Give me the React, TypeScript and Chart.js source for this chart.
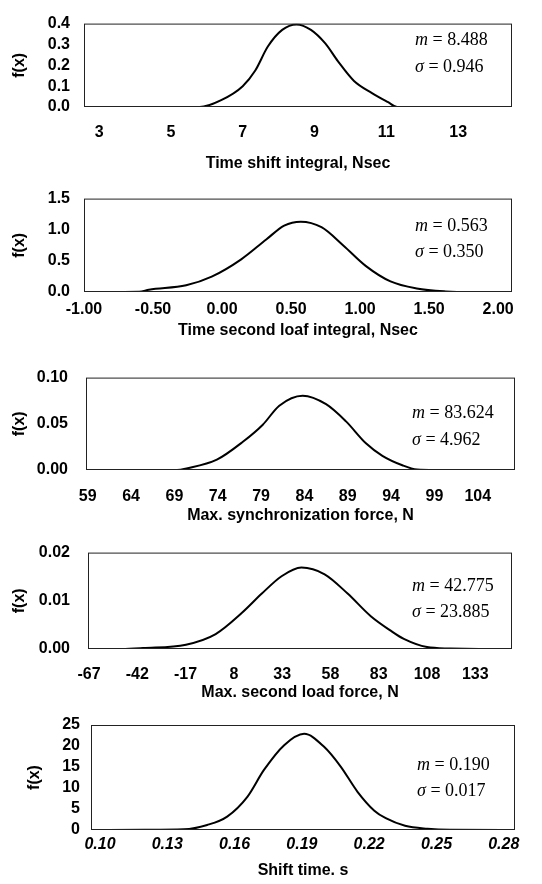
import React, { useEffect, useRef } from "react";
import { Chart, registerables } from "chart.js";
Chart.register(...registerables);

// ---------- DATA ----------
// Panel 1: Time shift integral
const p1X = [2.6, 4, 5, 5.8, 6.4, 7.0, 7.35, 7.7, 8.1, 8.5, 8.9, 9.3, 9.65, 10.1, 10.6, 11.05, 11.3, 12, 13, 14.5];
const p1Y = [0, 0, 0, 0, 0.033, 0.1, 0.175, 0.29, 0.37, 0.396, 0.37, 0.305, 0.22, 0.125, 0.067, 0.023, 0, 0, 0, 0];
const p1XTicks = [3, 5, 7, 9, 11, 13];
const p1YTicks = [0, 0.1, 0.2, 0.3, 0.4];

// Panel 2: Time second loaf integral
const p2X = [-1.0, -0.6, -0.53, -0.26, -0.075, 0.136, 0.32, 0.45, 0.57, 0.72, 0.88, 1.04, 1.22, 1.41, 1.62, 1.8, 2.1];
const p2Y = [0, 0.005, 0.037, 0.107, 0.246, 0.52, 0.843, 1.067, 1.13, 1.04, 0.743, 0.42, 0.17, 0.057, 0.01, 0, 0];
const p2XTicks = [-1.0, -0.5, 0.0, 0.5, 1.0, 1.5, 2.0];
const p2YTicks = [0, 0.5, 1.0, 1.5];

// Panel 3: Max. synchronization force
const p3X = [58.8, 65, 69.3, 70.4, 73.9, 76.9, 79.2, 81.1, 83.8, 86.5, 88.8, 91.1, 93.0, 95.3, 97, 99, 104, 108.3];
const p3Y = [0, 0, 0, 0.0017, 0.0112, 0.0305, 0.049, 0.0696, 0.0804, 0.0712, 0.0526, 0.0289, 0.0153, 0.0051, 0.0005, 0, 0, 0];
const p3XTicks = [59, 64, 69, 74, 79, 84, 89, 94, 99, 104];
const p3YTicks = [0, 0.05, 0.1];

// Panel 4: Max. second load force
const p4X = [-67.5, -50, -39, -16.8, -1.4, 12.2, 22.5, 32.7, 43, 55, 66.9, 78.9, 89.2, 96, 108, 120, 135, 152];
const p4Y = [0, 0, 0.0002, 0.0009, 0.0031, 0.0075, 0.0115, 0.0151, 0.0169, 0.0155, 0.0115, 0.0068, 0.0038, 0.0021, 0.0004, 0.0001, 0, 0];
const p4XTicks = [-67, -42, -17, 8, 33, 58, 83, 108, 133];
const p4YTicks = [0, 0.01, 0.02];

// Panel 5: Shift time
const p5X = [0.096, 0.12, 0.1374, 0.1478, 0.1567, 0.1657, 0.1731, 0.1821, 0.191, 0.1999, 0.2073, 0.2148, 0.2223, 0.2274, 0.236, 0.246, 0.256, 0.285];
const p5Y = [0, 0.05, 0.16, 1.2, 3.2, 7.9, 14.3, 20.2, 22.9, 19.8, 15.1, 9.1, 4.6, 2.8, 1.0, 0.3, 0.05, 0];
const p5XTicks = [0.1, 0.13, 0.16, 0.19, 0.22, 0.25, 0.28];
const p5YTicks = [0, 5, 10, 15, 20, 25];

const titles = [
  "Time shift integral, Nsec",
  "Time second loaf integral, Nsec",
  "Max. synchronization force, N",
  "Max. second load force, N",
  "Shift time. s",
];
const mValues = ["8.488", "0.563", "83.624", "42.775", "0.190"];
const sValues = ["0.946", "0.350", "4.962", "23.885", "0.017"];

// ---------- LAYOUT ----------
type Panel = {
  xs: number[]; ys: number[]; xTicks: number[]; yTicks: number[];
  xMin: number; xMax: number; yMax: number; xDec: number; yDec: number;
  top: number; height: number; L: number; R: number; T: number; B: number;
  xTickPad: number; yTickPad: number; yTitlePad: number; xItalic: boolean;
  title: string; m: string; s: string; mY: number; sY: number; textX: number;
};

const W = 542;
const panels: Panel[] = [
  { xs: p1X, ys: p1Y, xTicks: p1XTicks, yTicks: p1YTicks, xMin: 2.58, xMax: 14.5, yMax: 0.4, xDec: 0, yDec: 1,
    top: 0, height: 175, L: 84, R: 512, T: 15, B: 107, xTickPad: 16, yTickPad: 14, yTitlePad: 10, xItalic: false,
    title: titles[0], m: mValues[0], s: sValues[0], mY: 40, sY: 67, textX: 415 },
  { xs: p2X, ys: p2Y, xTicks: p2XTicks, yTicks: p2YTicks, xMin: -1.0, xMax: 2.1, yMax: 1.5, xDec: 2, yDec: 1,
    top: 175, height: 167, L: 84, R: 512, T: 190, B: 292, xTickPad: 8, yTickPad: 14, yTitlePad: 10, xItalic: false,
    title: titles[1], m: mValues[1], s: sValues[1], mY: 226, sY: 252, textX: 415 },
  { xs: p3X, ys: p3Y, xTicks: p3XTicks, yTicks: p3YTicks, xMin: 58.8, xMax: 108.3, yMax: 0.1, xDec: 0, yDec: 2,
    top: 350, height: 177, L: 86, R: 515, T: 372, B: 470, xTickPad: 17, yTickPad: 18, yTitlePad: 10, xItalic: false,
    title: titles[2], m: mValues[2], s: sValues[2], mY: 413, sY: 440, textX: 412 },
  { xs: p4X, ys: p4Y, xTicks: p4XTicks, yTicks: p4YTicks, xMin: -67.5, xMax: 152, yMax: 0.02, xDec: 0, yDec: 2,
    top: 525, height: 179, L: 88, R: 512, T: 549, B: 649, xTickPad: 16, yTickPad: 18, yTitlePad: 10, xItalic: false,
    title: titles[3], m: mValues[3], s: sValues[3], mY: 586, sY: 612, textX: 412 },
  { xs: p5X, ys: p5Y, xTicks: p5XTicks, yTicks: p5YTicks, xMin: 0.096, xMax: 0.285, yMax: 25, xDec: 2, yDec: 0,
    top: 700, height: 182, L: 91, R: 515, T: 725, B: 830, xTickPad: 5, yTickPad: 11, yTitlePad: 25, xItalic: true,
    title: titles[4], m: mValues[4], s: sValues[4], mY: 765, sY: 791, textX: 417 },
];

const FONT = "'Liberation Sans', Arial, sans-serif";
const SERIF = "'Liberation Serif', 'Times New Roman', serif";

function PanelChart({ p }: { p: Panel }) {
  const ref = useRef<HTMLCanvasElement | null>(null);
  useEffect(() => {
    if (!ref.current) return;
    const frame = {
      id: "frame",
      afterDraw(chart: any) {
        const { ctx, chartArea } = chart;
        ctx.save();
        ctx.strokeStyle = "#222";
        ctx.lineWidth = 1;
        ctx.strokeRect(chartArea.left + 0.5, chartArea.top + 0.5, chartArea.right - chartArea.left - 1, chartArea.bottom - chartArea.top - 1);
        ctx.fillStyle = "#000";
        ctx.textBaseline = "middle";
        ctx.textAlign = "left";
        const drawLine = (sym: string, val: string, y: number) => {
          ctx.font = `italic 18px ${SERIF}`;
          ctx.fillText(sym, p.textX, y - p.top);
          const w = ctx.measureText(sym).width;
          ctx.font = `18px ${SERIF}`;
          ctx.fillText(" = " + val, p.textX + w, y - p.top);
        };
        drawLine("m", p.m, p.mY);
        drawLine("\u03c3", p.s, p.sY);
        ctx.restore();
      },
    };
    const chart = new Chart(ref.current, {
      type: "line",
      data: {
        datasets: [
          {
            data: p.xs.map((x, i) => ({ x, y: p.ys[i] })),
            borderColor: "#000",
            borderWidth: 2,
            pointRadius: 0,
            fill: false,
            cubicInterpolationMode: "monotone",
          },
        ],
      },
      options: {
        responsive: false,
        animation: false,
        events: [],
        layout: { padding: { left: 0, right: W - p.R, top: p.T - p.top, bottom: 0 } },
        plugins: { legend: { display: false }, tooltip: { enabled: false } },
        scales: {
          x: {
            type: "linear",
            min: p.xMin,
            max: p.xMax,
            grid: { display: false, drawTicks: false },
            border: { display: false },
            afterBuildTicks: (s: any) => { s.ticks = p.xTicks.map((v) => ({ value: v })); },
            afterFit: (s: any) => { s.height = p.top + p.height - p.B; },
            ticks: {
              autoSkip: false,
              maxRotation: 0,
              padding: p.xTickPad,
              color: "#000",
              font: { family: FONT, size: 16, weight: "bold", style: p.xItalic ? "italic" : "normal" },
              callback: (v: any) => Number(v).toFixed(p.xDec),
            },
            title: {
              display: true,
              text: p.title,
              color: "#000",
              font: { family: FONT, size: 16, weight: "bold" },
              padding: { top: 0, bottom: 2 },
            },
          },
          y: {
            type: "linear",
            min: 0,
            max: p.yMax,
            grid: { display: false, drawTicks: false },
            border: { display: false },
            afterBuildTicks: (s: any) => { s.ticks = p.yTicks.map((v) => ({ value: v })); },
            afterFit: (s: any) => { s.width = p.L; },
            ticks: {
              autoSkip: false,
              padding: p.yTickPad,
              color: "#000",
              font: { family: FONT, size: 16, weight: "bold" },
              callback: (v: any) => Number(v).toFixed(p.yDec),
            },
            title: {
              display: true,
              text: "f(x)",
              color: "#000",
              font: { family: FONT, size: 16, weight: "bold" },
              padding: { top: p.yTitlePad, bottom: 0 },
            },
          },
        },
      },
      plugins: [frame],
    } as any);
    return () => chart.destroy();
  }, [p]);
  return (
    <canvas
      ref={ref}
      width={W}
      height={p.height}
      style={{ position: "absolute", left: 0, top: p.top, width: W, height: p.height }}
    />
  );
}

export default function App() {
  return (
    <div style={{ position: "absolute", left: 0, top: 0, width: W, height: 884, background: "#fff" }}>
      {panels.map((p, i) => (
        <PanelChart key={i} p={p} />
      ))}
    </div>
  );
}
